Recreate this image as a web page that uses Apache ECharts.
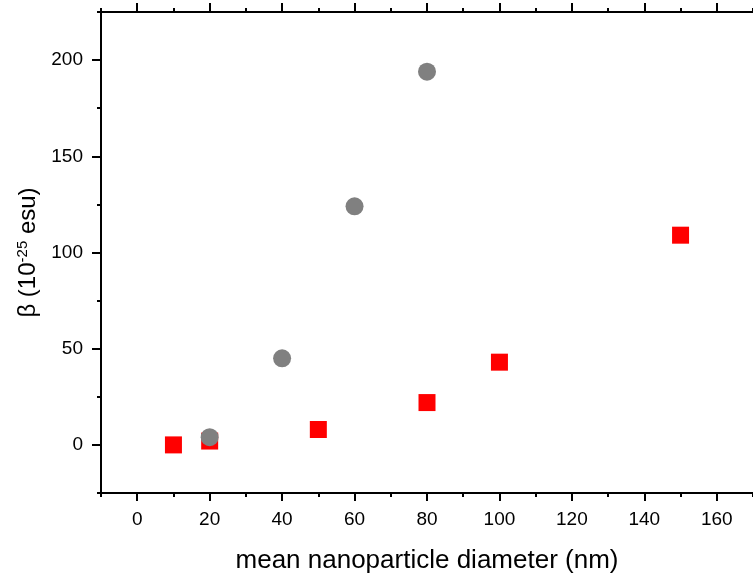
<!DOCTYPE html>
<html>
<head>
<meta charset="utf-8">
<script src="https://cdn.jsdelivr.net/npm/echarts@6/dist/echarts.min.js"></script>
<style>html,body{margin:0;padding:0;background:#fff}#c{width:753px;height:579px}</style>
</head>
<body>
<div id="c"></div>
<script>
const xMin = -10, xMax = 170, yMin = -25, yMax = 225;
const xMajorTicks = [0, 20, 40, 60, 80, 100, 120, 140, 160];
const xMinorTicks = [-10, 10, 30, 50, 70, 90, 110, 130, 150, 170];
const yMajorTicks = [0, 50, 100, 150, 200];
const yMinorTicks = [-25, 25, 75, 125, 175, 225];
const circleDiameter = [20, 40, 60, 80];
const circleBeta = [4, 45, 124, 194];
const squareDiameter = [10, 20, 50, 80, 100, 150];
const squareBeta = [0, 2, 8, 22, 43, 109];
const xTitle = 'mean nanoparticle diameter (nm)';

const chart = echarts.init(document.getElementById('c'), null, {renderer: 'canvas'});
const font = 'Liberation Sans, Arial, sans-serif';
const line = {show: true, onZero: false, lineStyle: {color: '#000', width: 2}};
function xAx(pos, ticks, len, labels, extra) {
  return Object.assign({
    type: 'value', position: pos, min: xMin, max: xMax,
    axisLine: line, splitLine: {show: false},
    axisTick: {show: true, inside: false, length: len, customValues: ticks, lineStyle: {color: '#000', width: 2}},
    axisLabel: labels ? {show: true, customValues: xMajorTicks, color: '#000', fontFamily: font, fontSize: 19, margin: 17} : {show: false}
  }, extra || {});
}
function yAx(ticks, len, labels, extra) {
  return Object.assign({
    type: 'value', position: 'left', min: yMin, max: yMax,
    axisLine: line, splitLine: {show: false},
    axisTick: {show: true, inside: false, length: len, customValues: ticks, lineStyle: {color: '#000', width: 2}},
    axisLabel: labels ? {show: true, customValues: yMajorTicks, color: '#000', fontFamily: font, fontSize: 19, margin: 18} : {show: false}
  }, extra || {});
}
chart.setOption({
  backgroundColor: '#fff',
  animation: false,
  grid: {left: 101, top: 12, right: -4, bottom: 86, containLabel: false},
  xAxis: [
    xAx('bottom', xMajorTicks, 8, true, {name: xTitle, nameLocation: 'middle', nameGap: 55,
      nameTextStyle: {color: '#000', fontFamily: font, fontSize: 26}}),
    xAx('bottom', xMinorTicks, 4, false),
    xAx('top', xMajorTicks, 9, false),
    xAx('top', xMinorTicks, 4, false)
  ],
  yAxis: [
    yAx(yMajorTicks, 9, true, {name: '{a|β (10}{sup|-25}{a| esu)}', nameLocation: 'middle', nameGap: 58,
      nameTextStyle: {color: '#000', fontFamily: font, fontSize: 24,
        rich: {a: {fontFamily: font, fontSize: 24, color: '#000'},
               sup: {fontFamily: font, fontSize: 15, color: '#000', verticalAlign: 'top', padding: [0, 0, 11, 0]}}}}),
    yAx(yMinorTicks, 4, false)
  ],
  series: [
    {type: 'scatter', xAxisIndex: 0, yAxisIndex: 0, symbol: 'rect', symbolSize: 17,
     itemStyle: {color: '#ff0000', opacity: 1}, data: squareDiameter.map((d, i) => [d, squareBeta[i]])},
    {type: 'scatter', xAxisIndex: 0, yAxisIndex: 0, symbol: 'circle', symbolSize: 18,
     itemStyle: {color: '#808080', opacity: 1}, data: circleDiameter.map((d, i) => [d, circleBeta[i]])}
  ]
});
</script>
</body>
</html>
